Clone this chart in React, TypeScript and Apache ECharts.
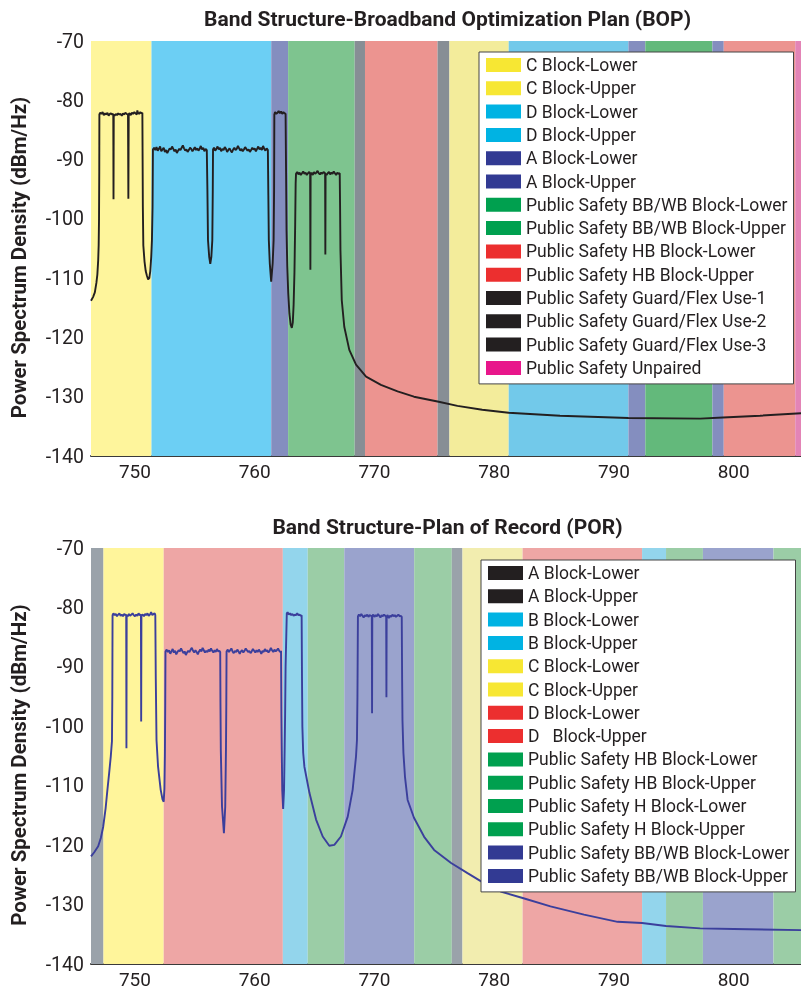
import React, { useEffect, useRef } from "react";
import * as echarts from "echarts";

const X_MIN = 746.33;
const X_MAX = 805.62;
const Y_MIN = -140;
const Y_MAX = -70;

const topTitle = "Band Structure-Broadband Optimization Plan (BOP)";
const bottomTitle = "Band Structure-Plan of Record (POR)";
const yAxisTitle = "Power Spectrum Density (dBm/Hz)";

// Band edges (MHz)
const bopBandStarts = [746.33, 751.38, 761.38, 762.79, 768.35, 769.21, 775.27, 776.26, 781.21, 791.21, 792.62, 798.22, 799.17, 805.14];
const bopBandColors = ["#FEF59C", "#6CCFF4", "#848EBF", "#7EC48F", "#878E95", "#EC9490", "#878E95", "#F3EC9B", "#72C9EA", "#848EBF", "#63B97B", "#848EBF", "#EC9490", "#E384B6"];

const porBandStarts = [746.33, 747.37, 752.4, 762.35, 764.43, 767.48, 773.32, 776.46, 777.35, 782.37, 792.35, 794.35, 797.43, 803.32];
const porBandColors = ["#9AA2AA", "#FFF59B", "#EEA6A5", "#93D5EC", "#9BCDA6", "#9AA3CD", "#9BCDA6", "#9AA2AA", "#F2EDAF", "#EEA6A5", "#93D5EC", "#9BCDA6", "#9AA3CD", "#9BCDA6"];

// Legends
const bopLegendNames = [
  "C Block-Lower", "C Block-Upper", "D Block-Lower", "D Block-Upper",
  "A Block-Lower", "A Block-Upper",
  "Public Safety BB/WB Block-Lower", "Public Safety BB/WB Block-Upper",
  "Public Safety HB Block-Lower", "Public Safety HB Block-Upper",
  "Public Safety Guard/Flex Use-1", "Public Safety Guard/Flex Use-2", "Public Safety Guard/Flex Use-3",
  "Public Safety Unpaired",
];
const bopLegendColors = ["#F7E733", "#F7E733", "#00B3E3", "#00B3E3", "#323A93", "#323A93", "#00A04F", "#00A04F", "#EC2F2F", "#EC2F2F", "#231F20", "#231F20", "#231F20", "#E8168B"];

const porLegendNames = [
  "A Block-Lower", "A Block-Upper", "B Block-Lower", "B Block-Upper",
  "C Block-Lower", "C Block-Upper", "D Block-Lower", "D   Block-Upper",
  "Public Safety HB Block-Lower", "Public Safety HB Block-Upper",
  "Public Safety H Block-Lower", "Public Safety H Block-Upper",
  "Public Safety BB/WB Block-Lower", "Public Safety BB/WB Block-Upper",
];
const porLegendColors = ["#231F20", "#231F20", "#00B3E3", "#00B3E3", "#F7E733", "#F7E733", "#EC2F2F", "#EC2F2F", "#00A04F", "#00A04F", "#00A04F", "#00A04F", "#323A93", "#323A93"];

// PSD curves [MHz, dBm/Hz]
const bopCurve: [number, number][] = [
  [746.33, -113.8], [746.5, -113.2], [746.65, -112.4], [746.78, -110.8], [746.86, -109.4], [746.93, -107.0], [746.97, -104.5], [747.0, -100], [747.02, -92], [747.03, -82.4],
  [747.1, -82.1], [747.2, -82.3], [747.3, -82.0], [747.4, -82.5], [747.5, -82.2], [747.6, -82.4], [747.7, -82.1], [747.8, -82.6], [747.9, -82.3], [748.0, -82.2], [748.1, -82.4], [748.19, -82.3], [748.21, -96.7], [748.23, -82.5],
  [748.3, -82.6], [748.4, -82.3], [748.5, -82.5], [748.6, -82.2], [748.7, -82.4], [748.8, -82.3], [748.9, -82.6], [749.0, -82.2], [749.1, -82.4], [749.2, -82.1], [749.3, -82.3], [749.42, -82.4], [749.45, -96.6], [749.48, -82.3],
  [749.55, -82.2], [749.65, -82.5], [749.75, -82.1], [749.85, -82.3], [749.95, -82.0], [750.05, -82.2], [750.15, -82.4], [750.2, -81.7], [750.25, -82.1], [750.35, -82.3], [750.45, -82.0], [750.55, -82.2], [750.62, -82.1],
  [750.64, -90], [750.66, -98], [750.7, -104.5], [750.8, -107.2], [750.9, -108.8], [751.0, -109.6], [751.1, -110.2], [751.2, -110.0], [751.28, -108.8], [751.36, -106.4], [751.42, -103.5], [751.47, -98], [751.5, -88.3],
  [751.6, -88.0], [751.7, -88.4], [751.8, -87.9], [751.9, -88.5], [752.0, -88.2], [752.1, -87.8], [752.2, -88.6], [752.3, -88.3], [752.4, -88.0], [752.5, -88.7], [752.6, -88.4], [752.7, -88.9], [752.8, -88.5], [752.9, -88.1],
  [753.0, -88.3], [753.1, -87.8], [753.2, -88.2], [753.3, -88.6], [753.4, -88.3], [753.5, -88.9], [753.6, -88.5], [753.7, -88.2], [753.8, -88.4], [753.9, -88.0], [754.0, -87.6], [754.1, -88.1], [754.2, -88.5], [754.3, -88.3],
  [754.4, -88.7], [754.5, -88.4], [754.6, -88.0], [754.7, -88.2], [754.8, -88.6], [754.9, -88.3], [755.0, -87.9], [755.1, -88.4], [755.2, -88.1], [755.3, -88.5], [755.4, -88.2], [755.5, -87.7], [755.6, -88.3], [755.7, -88.0],
  [755.8, -88.6], [755.9, -88.2], [756.0, -88.4],
  [756.05, -95], [756.1, -103.6], [756.2, -106.4], [756.29, -107.6], [756.38, -106.4], [756.46, -103.6], [756.5, -95], [756.52, -88.3],
  [756.6, -88.0], [756.7, -88.5], [756.8, -88.2], [756.9, -87.8], [757.0, -88.3], [757.1, -88.0], [757.2, -88.6], [757.3, -88.2], [757.4, -88.4], [757.5, -87.9], [757.6, -88.2], [757.7, -88.7], [757.8, -88.4], [757.9, -88.1],
  [758.0, -88.5], [758.1, -88.8], [758.2, -88.3], [758.3, -88.0], [758.4, -88.4], [758.5, -88.2], [758.6, -87.7], [758.7, -88.1], [758.8, -88.5], [758.9, -88.2], [759.0, -88.6], [759.1, -88.3], [759.2, -87.9], [759.3, -88.2],
  [759.4, -88.5], [759.5, -88.3], [759.6, -88.7], [759.7, -88.4], [759.8, -88.0], [759.9, -88.3], [760.0, -88.1], [760.1, -88.6], [760.2, -88.2], [760.3, -87.8], [760.4, -88.3], [760.5, -88.0], [760.6, -88.4], [760.7, -87.7],
  [760.8, -88.2], [760.9, -88.5], [761.0, -88.1], [761.1, -88.4],
  [761.14, -96], [761.18, -103.6], [761.26, -107.5], [761.375, -110.6], [761.5, -107.5], [761.58, -103.6], [761.62, -95], [761.64, -82.4],
  [761.7, -82.0], [761.8, -82.3], [761.9, -82.1], [762.0, -81.8], [762.1, -82.2], [762.2, -81.9], [762.3, -82.3], [762.4, -82.0], [762.5, -82.2], [762.58, -82.3],
  [762.62, -92], [762.66, -102], [762.72, -108], [762.8, -112.5], [762.9, -116.0], [763.0, -117.8], [763.1, -118.4], [763.18, -117.5], [763.25, -114.5], [763.32, -109], [763.38, -101], [763.42, -94], [763.45, -92.4],
  [763.55, -92.1], [763.65, -92.5], [763.75, -92.2], [763.85, -92.6], [763.95, -92.3], [764.05, -92.0], [764.15, -92.4], [764.25, -92.2], [764.35, -92.6], [764.45, -92.3], [764.55, -92.1], [764.63, -92.4], [764.65, -108.6], [764.67, -92.5],
  [764.75, -92.2], [764.85, -92.6], [764.95, -92.1], [765.05, -92.4], [765.15, -92.2], [765.25, -91.9], [765.35, -92.3], [765.45, -92.5], [765.55, -92.2], [765.65, -92.4], [765.75, -92.1], [765.88, -92.3], [765.9, -106.0], [765.92, -92.4],
  [766.0, -92.6], [766.1, -92.3], [766.2, -92.1], [766.3, -92.5], [766.4, -92.2], [766.5, -92.4], [766.6, -92.0], [766.7, -92.3], [766.8, -92.6], [766.9, -92.2], [767.0, -92.4], [767.1, -92.3],
  [767.13, -98], [767.16, -105.2], [767.27, -113.7], [767.48, -118.2], [767.9, -122.1], [768.46, -124.6], [769.3, -126.6], [770.54, -128.0], [771.93, -129.1], [773.3, -130.0], [775.27, -130.8], [776.93, -131.55],
  [779.0, -132.2], [781.2, -132.7], [785.5, -133.2], [791.2, -133.6], [797.2, -133.7], [799.1, -133.5], [802.2, -133.2], [805.62, -132.8],
];

const porCurve: [number, number][] = [
  [746.33, -121.9], [746.6, -121.2], [746.93, -120.2], [747.15, -118.8], [747.35, -116.9], [747.55, -113.8], [747.7, -110.7], [747.85, -107.8], [747.98, -105.1], [748.08, -102.5], [748.11, -95], [748.13, -81.3],
  [748.2, -81.0], [748.3, -81.3], [748.4, -81.1], [748.5, -81.5], [748.6, -81.2], [748.7, -81.0], [748.8, -81.4], [748.9, -81.2], [749.0, -81.5], [749.1, -81.1], [749.2, -81.3], [749.27, -81.2], [749.29, -103.7], [749.31, -81.3],
  [749.4, -81.5], [749.5, -81.1], [749.6, -81.4], [749.7, -81.2], [749.8, -81.0], [749.9, -81.3], [750.0, -81.5], [750.1, -81.2], [750.2, -81.4], [750.3, -81.0], [750.4, -81.3], [750.5, -81.2], [750.52, -99.2], [750.54, -81.4],
  [750.65, -81.2], [750.75, -81.5], [750.85, -81.1], [750.95, -81.3], [751.05, -81.0], [751.15, -81.4], [751.25, -81.2], [751.35, -80.8], [751.45, -81.3], [751.55, -81.1], [751.65, -81.0], [751.7, -81.3],
  [751.74, -92], [751.8, -102.3], [751.93, -106.8], [752.15, -110.7], [752.3, -112.3], [752.4, -112.7], [752.46, -110.5], [752.5, -105], [752.53, -96], [752.55, -87.4],
  [752.65, -87.1], [752.75, -87.5], [752.85, -87.2], [752.95, -87.8], [753.05, -87.4], [753.15, -87.0], [753.25, -87.6], [753.35, -87.3], [753.45, -87.9], [753.55, -87.5], [753.65, -87.2], [753.75, -87.4], [753.85, -86.9], [753.95, -87.3],
  [754.05, -87.7], [754.15, -87.4], [754.25, -88.0], [754.35, -87.6], [754.45, -87.3], [754.55, -87.5], [754.65, -87.1], [754.75, -86.8], [754.85, -87.3], [754.95, -87.6], [755.05, -87.2], [755.15, -87.5], [755.25, -87.9], [755.35, -87.4],
  [755.45, -87.1], [755.55, -87.4], [755.65, -86.8], [755.75, -87.2], [755.85, -87.6], [755.95, -87.3], [756.05, -87.5], [756.15, -87.1], [756.25, -87.4], [756.35, -86.9], [756.45, -87.3], [756.55, -87.6], [756.65, -87.2], [756.75, -87.5],
  [756.85, -87.0], [756.95, -87.4], [757.05, -87.3], [757.12, -87.5],
  [757.14, -96], [757.17, -104], [757.27, -113.5], [757.43, -118.0], [757.54, -113.5], [757.6, -104], [757.63, -96], [757.65, -87.4],
  [757.75, -87.1], [757.85, -87.5], [757.95, -87.2], [758.05, -86.9], [758.15, -87.4], [758.25, -87.7], [758.35, -87.3], [758.45, -87.5], [758.55, -87.1], [758.65, -87.4], [758.75, -87.8], [758.85, -87.4], [758.95, -87.2], [759.05, -87.6],
  [759.15, -87.3], [759.25, -86.9], [759.35, -87.2], [759.45, -87.5], [759.55, -87.3], [759.65, -87.7], [759.75, -87.4], [759.85, -87.0], [759.95, -87.3], [760.05, -87.6], [760.15, -87.2], [760.25, -87.5], [760.35, -87.1], [760.45, -87.4],
  [760.55, -87.8], [760.65, -87.3], [760.75, -87.5], [760.85, -87.0], [760.95, -87.4], [761.05, -87.2], [761.15, -87.6], [761.25, -87.3], [761.35, -86.8], [761.45, -87.2], [761.55, -87.5], [761.65, -87.1], [761.75, -87.4], [761.85, -87.2],
  [761.95, -86.9], [762.05, -87.3], [762.15, -87.5], [762.2, -87.3],
  [762.23, -98], [762.26, -104], [762.3, -110.7], [762.375, -113.9], [762.45, -110.7], [762.5, -104], [762.54, -98], [762.58, -90], [762.68, -81.0],
  [762.75, -80.8], [762.85, -81.2], [762.95, -81.0], [763.05, -81.3], [763.15, -81.1], [763.25, -81.4], [763.35, -81.2], [763.45, -81.3], [763.55, -81.0], [763.65, -81.3], [763.75, -81.2], [763.85, -81.4], [763.92, -81.3],
  [763.95, -92], [763.98, -100], [764.05, -104.5], [764.15, -106.8], [764.57, -111.2], [765.125, -115.7], [765.68, -118.55], [766.23, -120.1], [766.65, -119.95], [767.2, -118.55], [767.77, -115.2], [768.18, -110.7], [768.46, -105.1], [768.54, -102.3], [768.58, -95], [768.62, -81.5],
  [768.7, -81.2], [768.8, -81.5], [768.9, -81.1], [769.0, -81.4], [769.1, -81.7], [769.2, -81.3], [769.3, -81.5], [769.4, -81.2], [769.5, -81.6], [769.6, -81.3], [769.7, -81.4], [769.78, -81.5], [769.8, -97.8], [769.82, -81.4],
  [769.9, -81.2], [770.0, -81.6], [770.1, -81.3], [770.2, -81.5], [770.3, -81.1], [770.4, -81.4], [770.5, -81.7], [770.6, -81.3], [770.7, -81.5], [770.8, -81.2], [770.9, -81.4], [770.98, -81.6], [771.0, -95.1], [771.02, -81.5],
  [771.1, -81.3], [771.2, -81.8], [771.3, -81.4], [771.4, -81.6], [771.5, -81.2], [771.6, -81.5], [771.7, -81.3], [771.8, -81.6], [771.9, -81.4], [772.0, -81.2], [772.1, -81.5], [772.2, -81.4], [772.28, -81.6],
  [772.31, -92], [772.34, -99], [772.42, -104.5], [772.55, -108.5], [772.77, -112.4], [773.3, -115.4], [774.15, -118.6], [774.98, -120.8], [776.4, -123.0], [777.77, -124.7], [779.15, -126.4], [780.54, -127.8],
  [782.375, -128.9], [784.7, -130.3], [787.5, -131.7], [790.3, -132.9], [792.35, -133.1], [794.35, -133.6], [797.2, -134.0], [800.0, -134.1], [805.62, -134.3],
];

const FONT = "Roboto";
const TEXT = "#231F20";

function bandData(starts: number[]) {
  return starts.map((s, i) => [s, i + 1 < starts.length ? starts[i + 1] : X_MAX]);
}

function bandSeries(starts: number[], colors: string[], idx: number) {
  return {
    type: "custom",
    xAxisIndex: idx,
    yAxisIndex: idx,
    z: 1,
    silent: true,
    encode: { x: [0, 1] },
    data: bandData(starts),
    renderItem: (params: any, api: any) => {
      const p0 = api.coord([api.value(0), Y_MAX]);
      const p1 = api.coord([api.value(1), Y_MIN]);
      return {
        type: "rect",
        shape: { x: p0[0], y: p0[1], width: p1[0] - p0[0], height: p1[1] - p0[1] },
        style: { fill: colors[params.dataIndex] },
      };
    },
  };
}

function xAxis(idx: number) {
  return {
    type: "value",
    gridIndex: idx,
    min: X_MIN,
    max: X_MAX,
    splitNumber: 6,
    axisLine: { show: true, onZero: false, lineStyle: { color: "#3a3a3a", width: 2 } },
    axisTick: { show: false },
    splitLine: { show: false },
    axisLabel: {
      showMinLabel: false,
      showMaxLabel: false,
      margin: 6,
      fontSize: 19,
      fontFamily: FONT,
      color: TEXT,
      formatter: (v: number) => (Math.abs(v % 10) < 1e-6 ? String(Math.round(v)) : ""),
    },
  };
}

function yAxis(idx: number) {
  return {
    type: "value",
    gridIndex: idx,
    min: Y_MIN,
    max: Y_MAX,
    interval: 10,
    axisLine: { show: false },
    axisTick: { show: false },
    splitLine: { show: false },
    axisLabel: { margin: 7, fontSize: 19.5, fontFamily: FONT, color: TEXT },
    name: yAxisTitle,
    nameLocation: "middle",
    nameGap: 62,
    nameTextStyle: { fontSize: 20.5, fontWeight: "bold", fontFamily: FONT, color: TEXT, padding: [0, 18, 0, 0] },
  };
}

function legend(names: string[], colors: string[], left: number, top: number) {
  return {
    orient: "vertical",
    left,
    top,
    icon: "rect",
    itemWidth: 35,
    itemHeight: 14,
    itemGap: 5.3,
    padding: [4, 6, 7, 7],
    backgroundColor: "#ffffff",
    borderColor: "#444444",
    borderWidth: 1,
    selectedMode: false,
    textStyle: { fontSize: 17.5, lineHeight: 18, fontFamily: FONT, color: TEXT },
    itemStyle: { borderWidth: 0 },
    data: names.map((n, i) => ({ name: n, icon: "rect", itemStyle: { color: colors[i], borderWidth: 0 } })),
  };
}

export default function App() {
  const ref = useRef<HTMLDivElement>(null);
  useEffect(() => {
    if (!ref.current) return;
    const chart = echarts.init(ref.current, undefined, { renderer: "svg" });
    const allNames = Array.from(new Set([...bopLegendNames, ...porLegendNames]));
    const dummySeries = allNames.map((n) => ({
      type: "line",
      name: n,
      data: [],
      xAxisIndex: 0,
      yAxisIndex: 0,
      showSymbol: false,
    }));
    chart.setOption({
      animation: false,
      textStyle: { fontFamily: FONT },
      title: [
        { text: topTitle, left: 447.5, top: 8, textAlign: "center", padding: 0, textStyle: { fontSize: 21, fontWeight: "bold", fontFamily: FONT, color: TEXT } },
        { text: bottomTitle, left: 447.5, top: 516, textAlign: "center", padding: 0, textStyle: { fontSize: 21, fontWeight: "bold", fontFamily: FONT, color: TEXT } },
      ],
      grid: [
        { left: 89.5, top: 41, width: 711.5, height: 415 },
        { left: 89.5, top: 548, width: 711.5, height: 416 },
      ],
      xAxis: [xAxis(0), xAxis(1)],
      yAxis: [yAxis(0), yAxis(1)],
      legend: [
        legend(bopLegendNames, bopLegendColors, 479, 52),
        legend(porLegendNames, porLegendColors, 481, 560),
      ],
      series: [
        bandSeries(bopBandStarts, bopBandColors, 0),
        bandSeries(porBandStarts, porBandColors, 1),
        {
          type: "line",
          xAxisIndex: 0,
          yAxisIndex: 0,
          z: 3,
          silent: true,
          showSymbol: false,
          symbol: "none",
          data: bopCurve,
          lineStyle: { color: "#231F20", width: 1.9 },
        },
        {
          type: "line",
          xAxisIndex: 1,
          yAxisIndex: 1,
          z: 3,
          silent: true,
          showSymbol: false,
          symbol: "none",
          data: porCurve,
          lineStyle: { color: "#3B3F9C", width: 1.9 },
        },
        ...dummySeries,
      ],
    });
    return () => chart.dispose();
  }, []);
  return <div ref={ref} style={{ position: "fixed", left: 0, top: 0, width: 801, height: 990 }} />;
}
